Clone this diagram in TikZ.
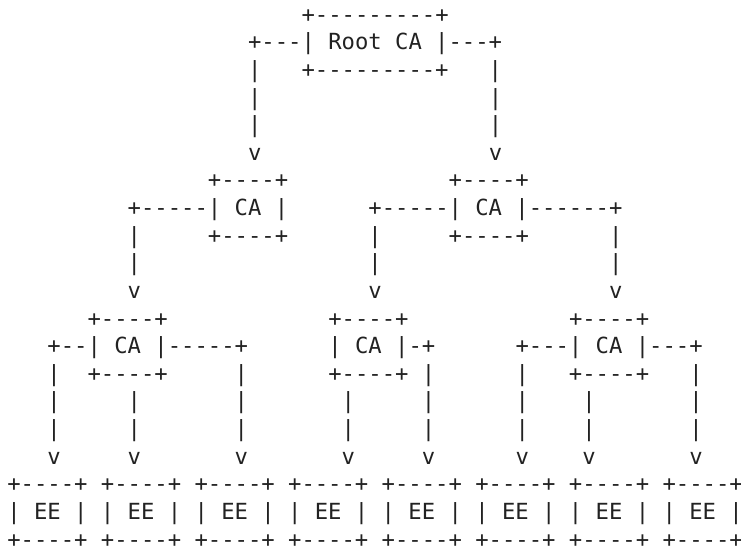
\documentclass[tikz,border=0pt]{standalone}
\usepackage{fontspec}
\newfontfamily\asciifont{DejaVu Sans Mono}[Ligatures=TeXOff]
\definecolor{ink}{HTML}{222222}
\tikzset{
  asc/.style={anchor=base west, inner sep=0pt, outer sep=0pt, text=ink,
    text depth=0pt, font=\asciifont\fontsize{16.66pt}{20pt}\selectfont}
}
% #1 name, #2 column, #3 row, #4 text
\newcommand\ascline[4]{\node[asc] (#1) at ({5.48pt+#2*10.03pt},{-(16.6pt+#3*20.72pt)}) {#4};}
\begin{document}
\begin{tikzpicture}
\useasboundingbox (0,0) rectangle (555.75pt,-413.25pt);
\ascline{r0}{22}{0}{+---------+}
\ascline{r1}{18}{1}{+---|~Root~CA~|---+}
\ascline{r2}{18}{2}{|~~~+---------+~~~|}
\ascline{r3}{18}{3}{|~~~~~~~~~~~~~~~~~|}
\ascline{r4}{18}{4}{|~~~~~~~~~~~~~~~~~|}
\ascline{r5}{18}{5}{v~~~~~~~~~~~~~~~~~v}
\ascline{r6}{15}{6}{+----+~~~~~~~~~~~~+----+}
\ascline{r7}{9}{7}{+-----|~CA~|~~~~~~+-----|~CA~|------+}
\ascline{r8}{9}{8}{|~~~~~+----+~~~~~~|~~~~~+----+~~~~~~|}
\ascline{r9}{9}{9}{|~~~~~~~~~~~~~~~~~|~~~~~~~~~~~~~~~~~|}
\ascline{r10}{9}{10}{v~~~~~~~~~~~~~~~~~v~~~~~~~~~~~~~~~~~v}
\ascline{r11}{6}{11}{+----+~~~~~~~~~~~~+----+~~~~~~~~~~~~+----+}
\ascline{r12}{3}{12}{+--|~CA~|-----+~~~~~~|~CA~|-+~~~~~~+---|~CA~|---+}
\ascline{r13}{3}{13}{|~~+----+~~~~~|~~~~~~+----+~|~~~~~~|~~~+----+~~~|}
\ascline{r14}{3}{14}{|~~~~~|~~~~~~~|~~~~~~~|~~~~~|~~~~~~|~~~~|~~~~~~~|}
\ascline{r15}{3}{15}{|~~~~~|~~~~~~~|~~~~~~~|~~~~~|~~~~~~|~~~~|~~~~~~~|}
\ascline{r16}{3}{16}{v~~~~~v~~~~~~~v~~~~~~~v~~~~~v~~~~~~v~~~~v~~~~~~~v}
\ascline{r17}{0}{17}{+----+~+----+~+----+~+----+~+----+~+----+~+----+~+----+}
\ascline{r18}{0}{18}{|~EE~|~|~EE~|~|~EE~|~|~EE~|~|~EE~|~|~EE~|~|~EE~|~|~EE~|}
\ascline{r19}{0}{19}{+----+~+----+~+----+~+----+~+----+~+----+~+----+~+----+}
\end{tikzpicture}
\end{document}
